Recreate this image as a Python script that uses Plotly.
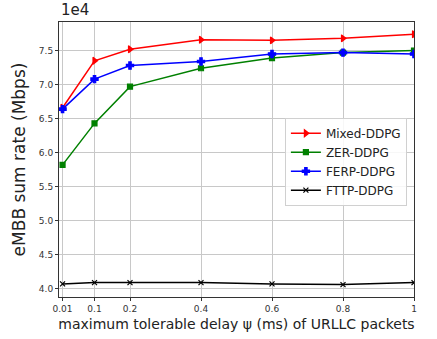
import plotly.graph_objects as go

delay = [0.01, 0.1, 0.2, 0.4, 0.6, 0.8, 1.0]
mixed_ddpg = [66600, 73500, 75200, 76600, 76500, 76800, 77400]
zer_ddpg = [58200, 64300, 69700, 72400, 73900, 74700, 75000]
ferp_ddpg = [66400, 70800, 72800, 73400, 74500, 74700, 74500]
fttp_ddpg = [40700, 40900, 40900, 40900, 40700, 40600, 40900]

x_tickvals = [0.01, 0.1, 0.2, 0.4, 0.6, 0.8, 1.0]
x_ticktext = ["0.01", "0.1", "0.2", "0.4", "0.6", "0.8", "1"]
y_tickvals = [40000, 45000, 50000, 55000, 60000, 65000, 70000, 75000]
y_ticktext = ["4.0", "4.5", "5.0", "5.5", "6.0", "6.5", "7.0", "7.5"]

FONT = "DejaVu Sans"

fig = go.Figure()
series = [
    ("Mixed-DDPG", mixed_ddpg, "#ff0000", "triangle-right", 6),
    ("ZER-DDPG", zer_ddpg, "#008000", "square", 5),
    ("FERP-DDPG", ferp_ddpg, "#0000ff", "cross", 6),
    ("FTTP-DDPG", fttp_ddpg, "#000000", "x-thin", 5),
]
for name, vals, color, sym, size in series:
    fig.add_trace(go.Scatter(
        x=delay, y=vals, name=name, mode="lines+markers",
        line=dict(color=color, width=1.5),
        marker=dict(symbol=sym, size=size, color=color,
                    line=dict(color=color, width=1.2)),
    ))

fig.update_layout(
    width=437, height=339,
    margin=dict(l=59, r=23, t=22, b=42),
    paper_bgcolor="white", plot_bgcolor="white",
    font=dict(family=FONT, color="#222222"),
    legend=dict(
        x=0.98, xanchor="right", y=0.652, yanchor="top",
        font=dict(family=FONT, size=12, color="#222222"),
        bgcolor="rgba(255,255,255,0.85)", bordercolor="#d0d0d0", borderwidth=1,
        itemwidth=30, tracegroupgap=0,
    ),
    annotations=[dict(
        text="1e4", x=0, y=1.0, xref="paper", yref="paper",
        xanchor="left", yanchor="bottom", showarrow=False, yshift=1,
        font=dict(family=FONT, size=15, color="#222222"),
    )],
)
fig.update_xaxes(
    range=[0, 1], tickvals=x_tickvals, ticktext=x_ticktext,
    showgrid=True, gridcolor="#c8c8c8", gridwidth=1,
    showline=True, linecolor="#333333", linewidth=1, mirror=True,
    ticks="outside", ticklen=3, tickcolor="#333333",
    tickfont=dict(family=FONT, size=9, color="#333333"),
    title=dict(text="maximum tolerable delay ψ (ms) of URLLC packets",
               font=dict(family=FONT, size=14, color="#222222"), standoff=6),
    zeroline=False, automargin=False,
)
fig.update_yaxes(
    range=[38780, 79200], tickvals=y_tickvals, ticktext=y_ticktext,
    showgrid=True, gridcolor="#c8c8c8", gridwidth=1,
    showline=True, linecolor="#333333", linewidth=1, mirror=True,
    ticks="outside", ticklen=3, tickcolor="#333333",
    tickfont=dict(family=FONT, size=9, color="#333333"),
    title=dict(text="eMBB sum rate (Mbps)",
               font=dict(family=FONT, size=17, color="#222222"), standoff=8),
    zeroline=False, automargin=False,
)

fig.write_html("out.html", config={"displayModeBar": False},
               post_script="document.body.style.margin='0';")
